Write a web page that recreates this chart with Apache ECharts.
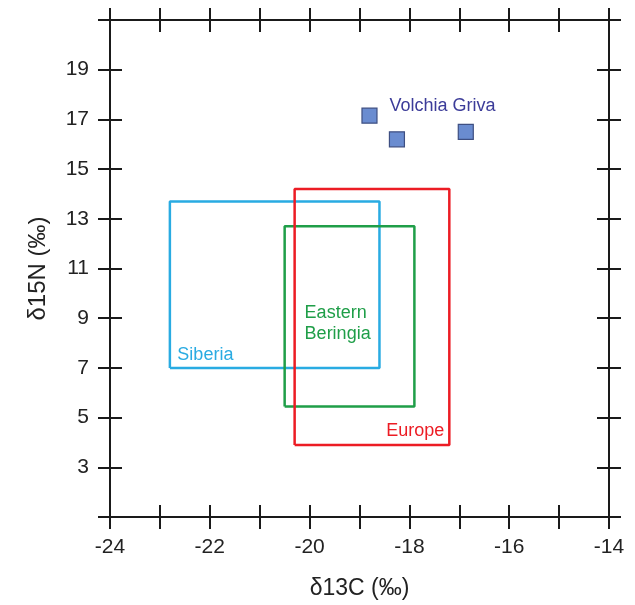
<!DOCTYPE html>
<html>
<head>
<meta charset="utf-8">
<script src="https://cdn.jsdelivr.net/npm/echarts@6/dist/echarts.min.js"></script>
<style>html,body{margin:0;padding:0;background:#fff}#c{width:635px;height:605px}</style>
</head>
<body>
<div id="c"></div>
<script>
// Data
const xTickLabels = ['-24', '-22', '-20', '-18', '-16', '-14'];
const yTickLabels = ['3', '5', '7', '9', '11', '13', '15', '17', '19'];
const volchiaGriva = [[-18.8, 17.15], [-18.25, 16.2], [-16.87, 16.5]];
// [xMin, xMax, yMin, yMax]
const siberia = [-22.8, -18.6, 7.0, 13.7];
const easternBeringia = [-20.5, -17.9, 5.45, 12.7];
const europe = [-20.3, -17.2, 3.9, 14.2];
const regionNames = ['Siberia', 'Eastern\nBeringia', 'Europe', 'Volchia Griva'];
const labelAnchors = [[-22.65, 7.5], [-20.1, 8.8], [-17.3, 4.45], [-18.4, 17.55]];

function rectPath(r) {
  return [[r[0], r[2]], [r[1], r[2]], [r[1], r[3]], [r[0], r[3]], [r[0], r[2]]];
}

const font = 'Liberation Sans, Arial, sans-serif';
const axisLineStyle = { color: '#1a1a1a', width: 2 };
const tickStyle = { color: '#1a1a1a', width: 2 };

function xAxisDef(pos, inside, showLabels) {
  return {
    type: 'value', position: pos, min: -24, max: -14, interval: 1,
    axisLine: { show: true, lineStyle: axisLineStyle },
    axisTick: { show: true, inside: inside, length: 12, lineStyle: tickStyle },
    splitLine: { show: false },
    axisLabel: showLabels ? {
      show: true, fontFamily: font, fontSize: 21, color: '#222', margin: 20,
      formatter: function (v) {
        const s = String(Math.round(v));
        return xTickLabels.indexOf(s) >= 0 ? s : '';
      }
    } : { show: false },
    name: showLabels ? 'δ13C (‰)' : '',
    nameLocation: 'middle', nameGap: 60,
    nameTextStyle: { fontFamily: font, fontSize: 23, color: '#222' }
  };
}
function yAxisDef(pos, inside, showLabels) {
  return {
    type: 'value', position: pos, min: 1, max: 21, interval: 2,
    axisLine: { show: true, lineStyle: axisLineStyle },
    axisTick: { show: true, inside: inside, length: 12, lineStyle: tickStyle },
    splitLine: { show: false },
    axisLabel: showLabels ? {
      show: true, fontFamily: font, fontSize: 21, color: '#222', margin: 21,
      formatter: function (v) {
        const s = String(Math.round(v));
        return yTickLabels.indexOf(s) >= 0 ? s : '';
      }
    } : { show: false },
    name: showLabels ? 'δ15N (‰)' : '',
    nameLocation: 'middle', nameGap: 60,
    nameTextStyle: { fontFamily: font, fontSize: 24, color: '#222' }
  };
}

function rectSeries(r, color) {
  return {
    type: 'line', data: rectPath(r), symbol: 'none', silent: true,
    lineStyle: { color: color, width: 2.5 }, z: 3
  };
}
function labelSeries(i, color, pos) {
  return {
    type: 'scatter', data: [labelAnchors[i]], symbolSize: 0, silent: true,
    itemStyle: { opacity: 1 },
    label: {
      show: true, position: 'inside', formatter: regionNames[i], opacity: 1,
      fontFamily: font, fontSize: 18, color: color, align: pos, verticalAlign: 'middle',
      lineHeight: 21
    }, z: 5
  };
}

const chart = echarts.init(document.getElementById('c'), null, { renderer: 'canvas' });
chart.setOption({
  animation: false,
  backgroundColor: '#fff',
  grid: { left: 110, right: 26, top: 20, bottom: 86 },
  xAxis: [
    xAxisDef('bottom', false, true),
    xAxisDef('bottom', true, false),
    xAxisDef('top', false, false),
    xAxisDef('top', true, false)
  ],
  yAxis: [
    yAxisDef('left', false, true),
    yAxisDef('left', true, false),
    yAxisDef('right', false, false),
    yAxisDef('right', true, false)
  ],
  series: [
    rectSeries(siberia, '#29abe2'),
    rectSeries(easternBeringia, '#1f9e48'),
    rectSeries(europe, '#ec1c24'),
    {
      type: 'scatter', data: volchiaGriva, symbol: 'rect', symbolSize: 15,
      itemStyle: { color: '#6a8cd0', borderColor: '#3e4f82', borderWidth: 1.2, opacity: 1 }, z: 4
    },
    labelSeries(0, '#29abe2', 'left'),
    labelSeries(1, '#1f9e48', 'left'),
    labelSeries(2, '#ec1c24', 'right'),
    labelSeries(3, '#3c3c99', 'left')
  ]
});
</script>
</body>
</html>
